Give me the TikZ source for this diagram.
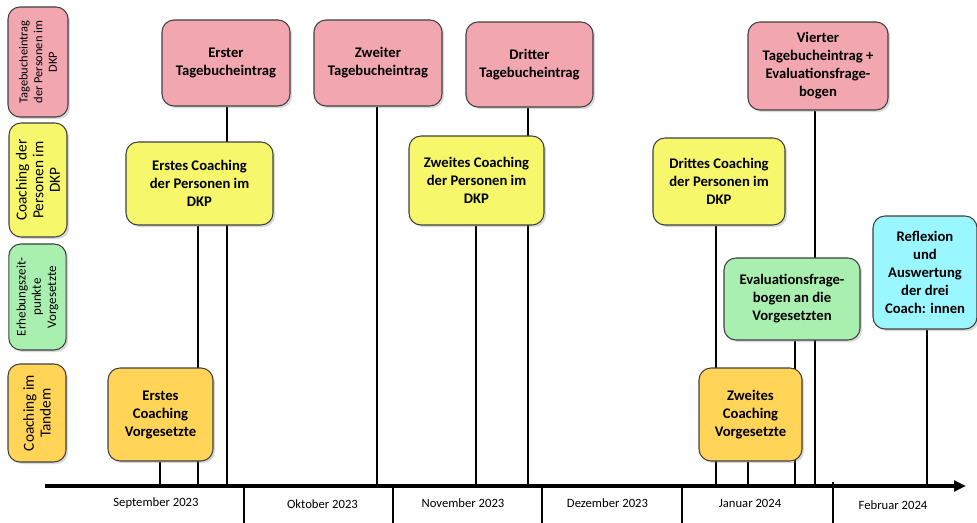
\documentclass[tikz,border=0pt]{standalone}
\usepackage{fontspec}
\setmainfont{Carlito}
\usetikzlibrary{shadows,arrows.meta}
\pgfdeclarelayer{background}
\pgfsetlayers{background,main}
\definecolor{tagpink}{HTML}{F2A7B0}
\definecolor{coachyellow}{HTML}{F7F76C}
\definecolor{evalgreen}{HTML}{A9F0B0}
\definecolor{tandemorange}{HTML}{FFD457}
\definecolor{reflcyan}{HTML}{9AF6FF}
\begin{document}
\begin{tikzpicture}[x=0.75pt,y=-0.75pt,
  box/.style={draw=black!75, line width=0.8pt, rounded corners=9pt, align=center,
    inner sep=2pt, font=\bfseries\fontsize{11}{13.5}\selectfont,
    drop shadow={shadow xshift=1.6pt, shadow yshift=-1.6pt, opacity=0.3}},
  side/.style n args={2}{box, rotate=90, font=\fontsize{#1}{#2}\selectfont},
  stem/.style={line width=1.5pt},
  axisline/.style={line width=3pt, -{Triangle[length=9pt,width=8pt]}},
  divider/.style={line width=2.2pt},
  month/.style={font=\fontsize{9.5}{11}\selectfont, inner sep=0pt}]
\useasboundingbox (0,0) rectangle (977,523);

% row labels
\node[side={9.3}{11}, fill=tagpink, minimum width=82.5pt, minimum height=45pt] (r1) at (38,62) {Tagebucheintrag\\der Personen im\\DKP};
\node[side={11.5}{12.5}, fill=coachyellow, minimum width=85.5pt, minimum height=43.5pt] (r2) at (38,180) {Coaching der\\Personen im\\DKP};
\node[side={9.8}{11.5}, fill=evalgreen, minimum width=79.5pt, minimum height=43pt] (r3) at (37.5,297) {Erhebungszeit-\\punkte\\Vorgesetzte};
\node[side={11.5}{12.5}, fill=tandemorange, minimum width=73.5pt, minimum height=43.5pt] (r4) at (37,413) {Coaching im\\Tandem};

% diary entries
\node[box, fill=tagpink, minimum width=96pt, minimum height=64.5pt] (t1) at (226,63) {Erster\\Tagebucheintrag};
\node[box, fill=tagpink, minimum width=96pt, minimum height=64.5pt] (t2) at (378,63) {Zweiter\\Tagebucheintrag};
\node[box, fill=tagpink, minimum width=95.25pt, minimum height=63.75pt] (t3) at (529.5,64.5) {Dritter\\Tagebucheintrag};
\node[box, fill=tagpink, minimum width=105pt, minimum height=66pt] (t4) at (818,66) {Vierter\\Tagebucheintrag +\\Evaluationsfrage-\\bogen};

% coaching of the persons
\node[box, fill=coachyellow, minimum width=110.25pt, minimum height=62.25pt] (c1) at (199.5,183.5) {Erstes Coaching\\der Personen im\\DKP};
\node[box, fill=coachyellow, minimum width=101.25pt, minimum height=66.75pt] (c2) at (476.5,180.5) {Zweites Coaching\\der Personen im\\DKP};
\node[box, fill=coachyellow, minimum width=99pt, minimum height=65.25pt] (c3) at (719,181.5) {Drittes Coaching\\der Personen im\\DKP};

% survey and reflection
\node[box, fill=evalgreen, minimum width=102pt, minimum height=61.5pt] (e1) at (792,299) {Evaluationsfrage-\\bogen an die\\Vorgesetzten};
\node[box, fill=reflcyan, minimum width=78pt, minimum height=84.75pt] (f1) at (925,272.5) {Reflexion\\und\\Auswertung\\der drei\\Coach: innen};

% tandem coaching
\node[box, fill=tandemorange, minimum width=78.75pt, minimum height=69.75pt] (v1) at (160.5,414.5) {Erstes\\Coaching\\Vorgesetzte};
\node[box, fill=tandemorange, minimum width=77.25pt, minimum height=69.75pt] (v2) at (750.5,414.5) {Zweites\\Coaching\\Vorgesetzte};

% time axis
\coordinate (a0) at (45,486);
\coordinate (a1) at (966,486);
\draw[axisline] (a0) -- (a1);

% points on the axis
\coordinate (p1) at (160,486);
\coordinate (p2) at (198,486);
\coordinate (p3) at (227,486);
\coordinate (p4) at (377,486);
\coordinate (p5) at (475.5,486);
\coordinate (p6) at (528,486);
\coordinate (p7) at (715.5,486);
\coordinate (p8) at (748,486);
\coordinate (p9) at (795,486);
\coordinate (p10) at (815,486);
\coordinate (p11) at (927,486);

\begin{pgfonlayer}{background}
\draw[stem] (p1) -- (p1 |- v1.south);
\draw[stem] (p2) -- (p2 |- c1.south);
\draw[stem] (p3) -- (p3 |- t1.south);
\draw[stem] (p4) -- (p4 |- t2.south);
\draw[stem] (p5) -- (p5 |- c2.south);
\draw[stem] (p6) -- (p6 |- t3.south);
\draw[stem] (p7) -- (p7 |- c3.south);
\draw[stem] (p8) -- (p8 |- v2.south);
\draw[stem] (p9) -- (p9 |- e1.south);
\draw[stem] (p10) -- (p10 |- t4.south);
\draw[stem] (p11) -- (p11 |- f1.south);
\end{pgfonlayer}

% month dividers
\coordinate (d1) at (244,486);
\coordinate (d2) at (393,486);
\coordinate (d3) at (542,486);
\coordinate (d4) at (682,486);
\coordinate (d5) at (833,482);
\coordinate (bottom) at (0,526);
\foreach \d in {d1,d2,d3,d4,d5}
  \draw[divider] (\d) -- (\d |- bottom);

% month labels
\node[month] (m1) at (156,503) {September 2023};
\node[month] (m2) at (322.5,504) {Oktober 2023};
\node[month] (m3) at (463,503) {November 2023};
\node[month] (m4) at (607.5,503) {Dezember 2023};
\node[month] (m5) at (750,503) {Januar 2024};
\node[month] (m6) at (893,505) {Februar 2024};
\end{tikzpicture}
\end{document}
